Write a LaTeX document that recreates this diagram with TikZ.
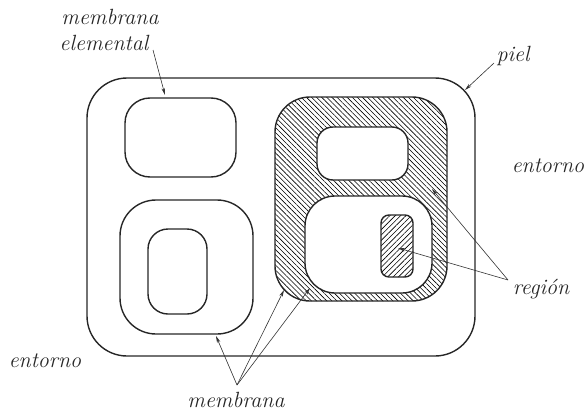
\documentclass[tikz,border=0pt]{standalone}
\usepackage{fontspec}
\usetikzlibrary{patterns.meta,arrows.meta}
\begin{document}
\begin{tikzpicture}[x=1pt,y=-1pt,
  wall/.style={draw=black!85,line width=1.4pt},
  lbl/.style={font=\fontsize{22}{26}\selectfont\itshape,text=black!85,inner sep=0pt,anchor=base},
  ptr/.style={draw=black!80,line width=0.6pt,-{Stealth[length=7pt,width=3.5pt]}},
  hatchA/.style={pattern={Lines[angle=-45,distance=3.6pt,line width=0.6pt]}},
  hatchB/.style={pattern={Lines[angle=45,distance=3.8pt,line width=0.6pt]}}]
\useasboundingbox (0,0) rectangle (588,412);
% skin
\draw[wall,rounded corners=40pt] (87,78) rectangle (475,356);
% elemental membrane
\draw[wall,rounded corners=25pt] (125,98) rectangle (236,177);
% bottom-left nested
\draw[wall,rounded corners=36pt] (120,200) rectangle (253,334);
\draw[wall,rounded corners=20pt] (148,229) rectangle (207,314);
% hatched region
\path[hatchA,rounded corners=35pt] (275,97) rectangle (447,301);
\draw[wall,rounded corners=35pt] (275,97) rectangle (447,301);
\draw[wall,fill=white,rounded corners=16pt] (317,127) rectangle (408,180);
\draw[wall,fill=white,rounded corners=30pt] (305,196) rectangle (432,293);
\path[hatchB,rounded corners=8pt] (381,215) rectangle (413,277);
\draw[wall,rounded corners=8pt] (381,215) rectangle (413,277);
% labels
\node[lbl] (me1) at (110,25) {membrana};
\node[lbl] (me2) at (104,51) {elemental};
\node[lbl] (piel) at (513,62) {piel};
\node[lbl] (entR) at (548,172) {entorno};
\node[lbl] (entL) at (45,367) {entorno};
\node[lbl] (reg) at (541,294) {región};
\node[lbl] (memb) at (236,407) {membrana};
% arrow endpoints
\coordinate (s1) at (153,50); \coordinate (t1) at (165,95);
\coordinate (s2) at (494,63); \coordinate (t2) at (465,90);
\coordinate (sr) at (508,280);
\coordinate (tr1) at (432,189); \coordinate (tr2) at (398,248);
\coordinate (sm) at (237,385);
\coordinate (tm1) at (216,336); \coordinate (tm2) at (284,290); \coordinate (tm3) at (310,288);
\draw[ptr] (s1) -- (t1);
\draw[ptr] (s2) -- (t2);
\draw[ptr] (sr) -- (tr1);
\draw[ptr] (sr) -- (tr2);
\draw[ptr] (sm) -- (tm1);
\draw[ptr] (sm) -- (tm2);
\draw[ptr] (sm) -- (tm3);
\end{tikzpicture}
\end{document}
